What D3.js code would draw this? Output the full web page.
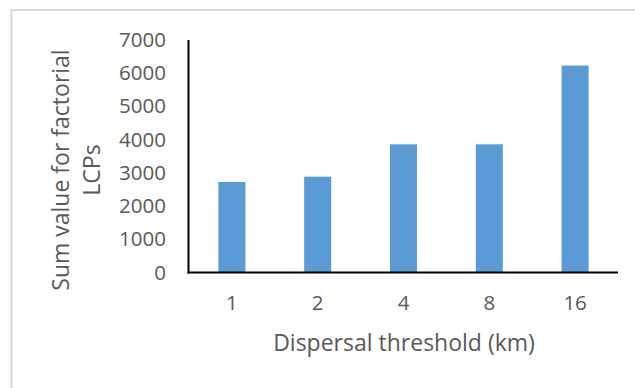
<!DOCTYPE html>
<html><head><meta charset="utf-8">
<script src="https://cdn.jsdelivr.net/npm/d3@7"></script>
<style>
html,body{margin:0;padding:0;background:#fff;}
svg{display:block;}
text{font-family:"Open Sans",sans-serif;fill:#595959;}
</style></head>
<body>
<svg id="chart" width="635" height="388"></svg>
<script>
const categories = ["1", "2", "4", "8", "16"];
const values = [2725, 2885, 3860, 3860, 6230];
const yTicks = [0, 1000, 2000, 3000, 4000, 5000, 6000, 7000];
const xTitle = "Dispersal threshold (km)";
const yTitleLines = ["Sum value for factorial", "LCPs"];

const svg = d3.select("#chart");
const tickFs = 20.5;
const titleFs = 23;

// outer chart frame
svg.append("rect").attr("x", 11.5).attr("y", 10).attr("width", 640).attr("height", 400)
  .attr("fill", "none").attr("stroke", "#d9d9d9").attr("stroke-width", 2);

const x = d3.scaleBand().domain(categories).range([189, 618]).paddingInner(0.685).paddingOuter(0.3425);
const y = d3.scaleLinear().domain([0, 7000]).range([272.5, 40]);

svg.selectAll("rect.bar").data(values).join("rect").attr("class", "bar")
  .attr("x", (d, i) => x(categories[i]))
  .attr("width", x.bandwidth())
  .attr("y", d => y(d))
  .attr("height", d => y(0) - y(d))
  .attr("fill", "#5b9bd5");

// y axis
const yAxis = d3.axisLeft(y).tickValues(yTicks).tickFormat(d3.format("d")).tickSize(0).tickPadding(22.5);
const gy = svg.append("g").attr("transform", "translate(188.5,0)").call(yAxis);
gy.select(".domain").remove();
gy.selectAll("text").attr("font-size", tickFs).attr("fill", "#595959").attr("font-family", "Open Sans");
svg.append("line").attr("x1", 188.5).attr("x2", 188.5).attr("y1", y(7000)).attr("y2", y(0) + 1)
  .attr("stroke", "#000").attr("stroke-width", 2);

// x axis
const xAxis = d3.axisBottom(x).tickSize(0).tickPadding(23);
const gx = svg.append("g").attr("transform", `translate(0,${y(0)})`).call(xAxis);
gx.select(".domain").remove();
gx.selectAll("text").attr("font-size", tickFs).attr("fill", "#595959").attr("font-family", "Open Sans");
svg.append("line").attr("x1", 187.5).attr("x2", 618).attr("y1", y(0)).attr("y2", y(0))
  .attr("stroke", "#000").attr("stroke-width", 2);

// titles
svg.append("text").attr("x", 404).attr("y", 351).attr("text-anchor", "middle")
  .attr("font-size", titleFs).text(xTitle);

const yt = svg.append("text").attr("transform", "translate(69,170) rotate(-90)")
  .attr("text-anchor", "middle").attr("font-size", titleFs);
yTitleLines.forEach((t, i) => yt.append("tspan").attr("x", 0).attr("y", i * 31).text(t));
</script>
</body></html>
